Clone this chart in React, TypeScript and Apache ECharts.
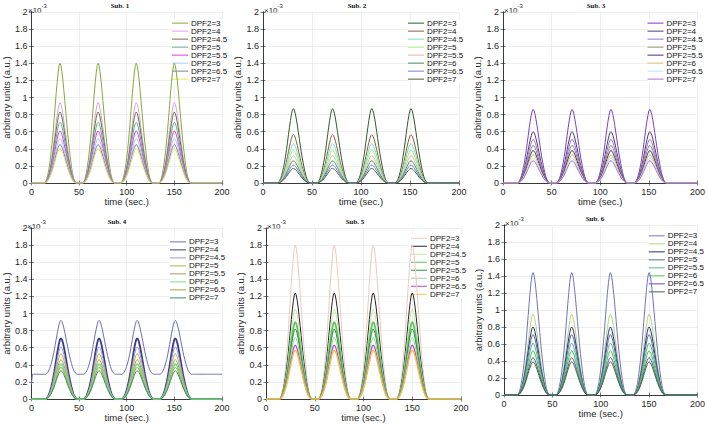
import React, { useEffect, useRef } from "react";
import * as echarts from "echarts";

// ---- data (values in units of 1e-3) ----
const dpfLabels = ["DPF2=3", "DPF2=4", "DPF2=4.5", "DPF2=5", "DPF2=5.5", "DPF2=6", "DPF2=6.5", "DPF2=7"];
const subTitles = ["Sub. 1", "Sub. 2", "Sub. 3", "Sub. 4", "Sub. 5", "Sub. 6"];
const xTicks = [0, 50, 100, 150, 200];
const yTicks = [0, 0.2, 0.4, 0.6, 0.8, 1, 1.2, 1.4, 1.6, 1.8, 2];

const bumpProfile = [0, 0.01, 0.03, 0.06, 0.1, 0.15, 0.21, 0.28, 0.36, 0.45, 0.55, 0.65, 0.75, 0.84, 0.92, 0.98, 1.0, 0.98, 0.93, 0.86, 0.78, 0.69, 0.6, 0.51, 0.42, 0.34, 0.27, 0.2, 0.14, 0.09, 0.05, 0.025, 0.01, 0];

// onsets of the four responses in each subplot (s)
const onsets1 = [14, 54, 94, 134];
const onsets2 = [15, 55, 95, 135];
const onsets3 = [15, 55, 95, 135];
const onsets4 = [15, 55, 95, 135];
const onsets5 = [14, 54, 94, 134];
const onsets6 = [14, 54, 94, 134];

// peak amplitudes (x1e-3) per DPF2 value
const peaks1 = [1.4, 0.94, 0.83, 0.71, 0.61, 0.52, 0.45, 0.4];
const peaks2 = [0.87, 0.565, 0.46, 0.385, 0.32, 0.26, 0.21, 0.17];
const peaks3 = [0.86, 0.6, 0.51, 0.44, 0.38, 0.33, 0.29, 0.26];
const peaks4 = [0.92, 0.71, 0.61, 0.53, 0.46, 0.41, 0.37, 0.33];
const peaks5 = [1.8, 1.24, 1.05, 0.9, 0.82, 0.72, 0.63, 0.57];
const peaks6 = [1.44, 0.95, 0.8, 0.71, 0.61, 0.52, 0.44, 0.39];

// baselines (Sub. 4, DPF2=3 sits on a raised baseline)
const baselines4 = [0.29, 0, 0, 0, 0, 0, 0, 0];
const sub4FirstValue = 0.17;

const colors1 = ["#86a83a", "#d9a3e3", "#6e6e48", "#5fae8c", "#e03ee0", "#a9c6f2", "#7a8796", "#e6e65a"];
const colors2 = ["#2f5a2f", "#8c5a3e", "#72e3c6", "#a8e67a", "#d6bca6", "#3e8c5e", "#6f7fe0", "#4e5c3e"];
const colors3 = ["#7a40c4", "#4c3d6c", "#9c72e6", "#8c8c72", "#4c2e6c", "#d9bb66", "#b6e8f2", "#b466e6"];
const colors4 = ["#6c6cbc", "#3a3a92", "#9f96d6", "#b3b344", "#b39466", "#74e396", "#a6a636", "#3e8c6e"];
const colors5 = ["#ecc9c0", "#232323", "#c6e9a6", "#62c462", "#249444", "#a6cca6", "#c444c4", "#f2c444"];
const colors6 = ["#7272c4", "#b6d676", "#2c2c84", "#4e6e9e", "#56b494", "#44c444", "#6c4ca4", "#3e6c3e"];
const widths4 = [1, 1.8, 1, 1, 1, 1.8, 1, 1];
const widths5 = [1, 1, 1, 1.8, 1, 1, 1.2, 1.4];

const timeGrid = Array.from({ length: 201 }, (_, i) => i);

// ---- layout ----
const grids = [
  { left: 27, top: 12, width: 195, height: 171 },
  { left: 263, top: 12, width: 196, height: 171 },
  { left: 503, top: 12, width: 200, height: 171 },
  { left: 26, top: 228, width: 196, height: 171 },
  { left: 266, top: 228, width: 195, height: 171 },
  { left: 504, top: 225, width: 195, height: 170 },
];
const legendPos = [
  { left: 172, y0: 22.7, gap: 7.14 },
  { left: 408, y0: 22.7, gap: 7.14 },
  { left: 647.5, y0: 22.7, gap: 7.14 },
  { left: 170, y0: 241.3, gap: 6.86 },
  { left: 411, y0: 238, gap: 7.5 },
  { left: 648.7, y0: 235.3, gap: 6.9 },
];
const titleX = [120, 357, 596, 117, 355, 595];

const subs = [
  { onsets: onsets1, peaks: peaks1, colors: colors1 },
  { onsets: onsets2, peaks: peaks2, colors: colors2 },
  { onsets: onsets3, peaks: peaks3, colors: colors3 },
  { onsets: onsets4, peaks: peaks4, colors: colors4, baselines: baselines4, widths: widths4 },
  { onsets: onsets5, peaks: peaks5, colors: colors5, widths: widths5 },
  { onsets: onsets6, peaks: peaks6, colors: colors6 },
];

function buildData(onsets: number[], peak: number, base: number, first?: number) {
  return timeGrid.map((t) => {
    let v = base;
    for (const o of onsets) {
      const k = t - o;
      if (k >= 0 && k < bumpProfile.length) v = base + (peak - base) * bumpProfile[k];
    }
    if (t === 0 && first !== undefined) v = first;
    return [t, v];
  });
}

const FONT = "Liberation Sans, Arial, sans-serif";
const AX = "#262626";

export default function App() {
  const ref = useRef<HTMLDivElement>(null);
  useEffect(() => {
    if (!ref.current) return;
    const chart = echarts.init(ref.current, undefined, { renderer: "svg" });
    const xAxis: any[] = [];
    const yAxis: any[] = [];
    const series: any[] = [];
    const legend: any[] = [];
    const title: any[] = [];
    const graphic: any[] = [];

    grids.forEach((g, i) => {
      const common = {
        gridIndex: i,
        axisLine: { show: true, lineStyle: { color: AX, width: 0.7 } },
        axisTick: { show: true, inside: true, length: 2.5, lineStyle: { color: AX, width: 0.6 } },
      };
      xAxis[i] = {
        ...common,
        type: "value",
        min: xTicks[0],
        max: xTicks[xTicks.length - 1],
        interval: xTicks[1] - xTicks[0],
        position: "bottom",
        axisLabel: { fontSize: 9, color: AX, fontFamily: FONT, margin: 4 },
        splitLine: { show: true, lineStyle: { color: "#e4e4e4", width: 0.6 } },
        name: "time (sec.)",
        nameLocation: "middle",
        nameGap: 13,
        nameTextStyle: { fontSize: 9.5, color: AX, fontFamily: FONT },
      };
      xAxis[6 + i] = {
        ...common,
        type: "value",
        min: xTicks[0],
        max: xTicks[xTicks.length - 1],
        interval: xTicks[1] - xTicks[0],
        position: "top",
        axisLabel: { show: false },
        splitLine: { show: false },
      };
      yAxis[i] = {
        ...common,
        type: "value",
        min: yTicks[0],
        max: yTicks[yTicks.length - 1],
        interval: yTicks[1] - yTicks[0],
        position: "left",
        axisLabel: {
          fontSize: 9,
          color: AX,
          fontFamily: FONT,
          margin: 4,
          formatter: (v: number) => String(Math.round(v * 10) / 10),
        },
        splitLine: { show: true, lineStyle: { color: "#e4e4e4", width: 0.6 } },
        name: "arbitrary units (a.u.)",
        nameLocation: "middle",
        nameGap: 16,
        nameTextStyle: { fontSize: 9.5, color: AX, fontFamily: FONT },
      };
      yAxis[6 + i] = {
        ...common,
        type: "value",
        min: yTicks[0],
        max: yTicks[yTicks.length - 1],
        interval: yTicks[1] - yTicks[0],
        position: "right",
        axisLabel: { show: false },
        splitLine: { show: false },
      };

      const s = subs[i] as any;
      const names: string[] = [];
      dpfLabels.forEach((lab, j) => {
        const name = `S${i + 1}|${lab}`;
        names.push(name);
        const base = s.baselines ? s.baselines[j] : 0;
        const first = i === 3 && j === 0 ? sub4FirstValue : undefined;
        series.push({
          type: "line",
          name,
          xAxisIndex: i,
          yAxisIndex: i,
          data: buildData(s.onsets, s.peaks[j], base, first),
          symbol: "none",
          showSymbol: false,
          smooth: false,
          z: 3,
          lineStyle: { color: s.colors[j], width: s.widths ? s.widths[j] : 1 },
          itemStyle: { color: s.colors[j] },
        });
      });
      const lp = legendPos[i];
      legend.push({
        data: names.map((n, j) => ({
          name: n,
          icon: "rect",
          itemStyle: { color: s.colors[j] },
        })),
        orient: "vertical",
        left: lp.left,
        top: lp.y0 - lp.gap / 2,
        padding: 0,
        itemGap: 0,
        itemWidth: 16,
        itemHeight: 1,
        backgroundColor: "#ffffff",
        z: 1,
        selectedMode: false,
        formatter: (n: string) => n.split("|")[1],
        textStyle: {
          fontSize: 8,
          lineHeight: lp.gap,
          height: lp.gap,
          color: "#111",
          fontFamily: FONT,
          padding: [0, 0, 0, -2],
        },
      });
      title.push({
        text: subTitles[i],
        left: titleX[i],
        top: g.top - 10,
        textAlign: "center",
        textStyle: { fontSize: 7, fontWeight: "bold", fontFamily: "Liberation Serif, Times New Roman, serif", color: "#111" },
        padding: 0,
      });
      graphic.push({
        type: "text",
        left: g.left + 1,
        top: g.top - 9,
        style: {
          text: "{a|×10}{b|-3}",
          rich: {
            a: { fontSize: 8, fontFamily: FONT, fill: AX, verticalAlign: "bottom" },
            b: { fontSize: 6, fontFamily: FONT, fill: AX, verticalAlign: "top", padding: [0, 0, 5, 0] },
          },
        },
      });
    });

    chart.setOption({
      animation: false,
      backgroundColor: "#ffffff",
      grid: grids.map((g) => ({ ...g, containLabel: false })),
      xAxis,
      yAxis,
      series,
      legend,
      title,
      graphic,
    });
    return () => chart.dispose();
  }, []);
  return <div ref={ref} style={{ position: "absolute", left: 0, top: 0, width: 708, height: 425 }} />;
}
